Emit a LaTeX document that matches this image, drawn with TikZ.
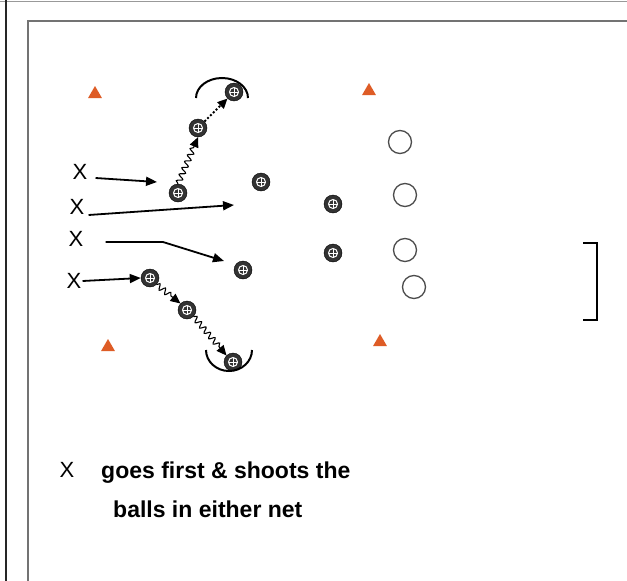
\documentclass[tikz,border=0pt]{standalone}
\usepackage{fontspec}
\setmainfont{Liberation Sans}
\usetikzlibrary{arrows.meta, decorations.pathmorphing, shapes.geometric}
\definecolor{conecol}{RGB}{222,92,38}

\begin{document}
\begin{tikzpicture}[x=1pt, y=-1pt,
        player/.style={inner sep=0pt, font=\fontsize{22}{22}\selectfont},
        ball/.style={circle, draw=black, fill=black!80, minimum size=18pt, inner sep=0pt,
            path picture={
                \draw[white, line width=1pt] (path picture bounding box.center) circle (4.5pt);
                \draw[white, line width=1pt] ([xshift=-4.5pt]path picture bounding box.center) -- ([xshift=4.5pt]path picture bounding box.center);
                \draw[white, line width=1pt] ([yshift=-4.5pt]path picture bounding box.center) -- ([yshift=4.5pt]path picture bounding box.center);
            }},
        cone/.style={regular polygon, regular polygon sides=3, fill=conecol, minimum size=16pt, inner sep=0pt},
        ring/.style={circle, draw=black!70, line width=1.3pt, minimum size=23pt, inner sep=0pt},
        run/.style={line width=1.8pt, -{Triangle[length=11pt, width=9pt]}},
        dribble/.style={line width=1.1pt, decorate, decoration={snake, amplitude=2.8pt, segment length=7pt, post length=9pt}, -{Triangle[length=10pt, width=9pt]}},
        pass/.style={line width=2pt, dotted, -{Triangle[length=10pt, width=9pt]}},
        note/.style={anchor=base west, inner sep=0pt, font=\bfseries\fontsize{23}{23}\selectfont}
    ]

    \useasboundingbox (0,0) rectangle (627,581);
    \fill[white] (0,0) rectangle (627,581);

    % Outer boundary
    \draw[black!40, line width=1pt] (0,1) -- (627,1);
    \draw[black!85, line width=2.2pt] (6,0) -- (6,581);

    % Field boundary
    \draw[black!55, line width=2.6pt] (28,581) -- (28,21) -- (627,21);

    % Cones
    \node[cone] (cone1) at (95,94) {};
    \node[cone] (cone2) at (369,91) {};
    \node[cone] (cone3) at (108,347) {};
    \node[cone] (cone4) at (380,342) {};

    % Players
    \node[player] (x1) at (80,172) {X};
    \node[player] (x2) at (77,207) {X};
    \node[player] (x3) at (76,239) {X};
    \node[player] (x4) at (74,281) {X};

    % Balls
    \node[ball] (b1) at (178,193) {};
    \node[ball] (b2) at (198,128) {};
    \node[ball] (b3) at (234,92) {};
    \node[ball] (b4) at (261,182) {};
    \node[ball] (b5) at (243,270) {};
    \node[ball] (b6) at (150,278) {};
    \node[ball] (b7) at (187,310) {};
    \node[ball] (b8) at (233,362) {};
    \node[ball] (b9) at (333,204) {};
    \node[ball] (b10) at (333,253) {};

    % Rings
    \node[ring] (r1) at (400,142) {};
    \node[ring] (r2) at (405,195) {};
    \node[ring] (r3) at (405,250) {};
    \node[ring] (r4) at (414,287) {};

    % Run ends
    \coordinate (e1) at (157,182);
    \coordinate (e2) at (234,205);
    \coordinate (k3) at (163,242);
    \coordinate (e3) at (224,261);

    % Runs
    \draw[run] (x1.east) ++(8,6) -- (e1);
    \draw[run] (x2.east) ++(4,8) -- (e2);
    \draw[run] (x3.east) ++(22,3) -- (k3) -- (e3);
    \draw[run] (x4.east) ++(1,0) -- (b6.west);

    % Dribbles and pass
    \draw[dribble] (b1.north) -- (b2.south);
    \draw[pass] (b2.north east) -- (b3.south west);
    \draw[dribble] (b6.south east) -- (b7.north west);
    \draw[dribble] (b7.south east) -- (b8.north west);

    % Turns
    \draw[line width=2pt] (196,98) arc[start angle=180, end angle=0, x radius=26pt, y radius=20pt];
    \draw[line width=2pt] (206,350) arc[start angle=180, end angle=360, x radius=23pt, y radius=21pt];

    % Goal
    \draw[line width=2.8pt] (583,243) -- (597,243) -- (597,320) -- (583,320);

    % Key
    \node[player] (xkey) at (67,470) {X};
    \node[note] (note1) at (101,478) {goes first \& shoots the};
    \node[note] (note2) at (113,517) {balls in either net};

\end{tikzpicture}
\end{document}
